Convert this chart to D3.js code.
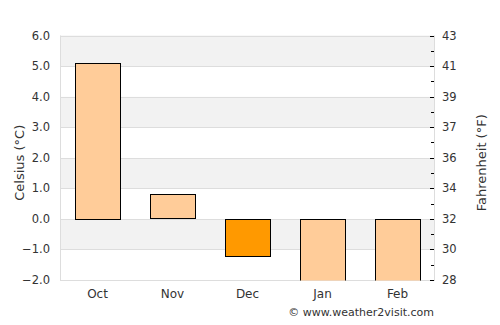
<!DOCTYPE html>
<html>
<head>
<meta charset="utf-8">
<script src="https://cdn.jsdelivr.net/npm/d3@7"></script>
<style>
  body { margin: 0; background: #fff; }
  text { font-family: "DejaVu Sans", sans-serif; fill: #333; }
</style>
</head>
<body>
<div id="chart-area"></div>
<script>
// monthly average temperature (Celsius)
var months = ["Oct", "Nov", "Dec", "Jan", "Feb"];
var celsius = [5.1, 0.8, -1.2, -2.5, -2.4];
var highlight = ["Dec"];

// axis ticks
var celsiusTicks = [-2, -1, 0, 1, 2, 3, 4, 5, 6];
var fahrenheitLabels = [28, 30, 32, 34, 36, 37, 39, 41, 43];

var width = 500, height = 325;
var plotLeft = 60, plotRight = 435, plotTop = 35.5, plotBottom = 280;

var svg = d3.select("#chart-area").append("svg")
    .attr("width", width)
    .attr("height", height);

var x = d3.scaleBand()
    .domain(months)
    .range([plotLeft, plotRight])
    .paddingInner(0.4)
    .paddingOuter(0.2);

var y = d3.scaleLinear()
    .domain([-2, 6])
    .range([plotBottom, plotTop]);

// alternating bands
svg.selectAll("rect.band")
    .data(celsiusTicks.slice(0, -1))
    .enter().append("rect")
    .attr("class", "band")
    .attr("x", plotLeft)
    .attr("width", plotRight - plotLeft)
    .attr("y", function(d) { return y(d + 1); })
    .attr("height", function(d) { return y(d) - y(d + 1); })
    .attr("fill", function(d) { return (d % 2 === 0) ? "#ffffff" : "#f2f2f2"; });

// gridlines
svg.selectAll("line.grid")
    .data(celsiusTicks)
    .enter().append("line")
    .attr("class", "grid")
    .attr("x1", plotLeft)
    .attr("x2", plotRight)
    .attr("y1", function(d) { return Math.round(y(d)) + 0.5; })
    .attr("y2", function(d) { return Math.round(y(d)) + 0.5; })
    .attr("stroke", "#dddddd");

// plot border left/right
svg.append("line")
    .attr("x1", plotLeft + 0.5).attr("x2", plotLeft + 0.5)
    .attr("y1", plotTop).attr("y2", plotBottom + 0.5)
    .attr("stroke", "#dddddd");
svg.append("line")
    .attr("x1", plotRight - 0.5).attr("x2", plotRight - 0.5)
    .attr("y1", plotTop).attr("y2", plotBottom + 0.5)
    .attr("stroke", "#dddddd");

svg.append("clipPath").attr("id", "plot-clip")
  .append("rect")
    .attr("x", plotLeft).attr("y", plotTop)
    .attr("width", plotRight - plotLeft).attr("height", plotBottom - plotTop + 0.5);

// bars
svg.append("g").attr("clip-path", "url(#plot-clip)")
  .selectAll("rect.bar")
    .data(celsius)
    .enter().append("rect")
    .attr("class", "bar")
    .attr("x", function(d, i) { return x(months[i]) + 0.5; })
    .attr("width", x.bandwidth())
    .attr("y", function(d) { return Math.round(y(Math.max(d, 0))) + 0.5; })
    .attr("height", function(d) { return Math.round(Math.abs(y(d) - y(0))); })
    .attr("fill", function(d, i) {
        if (highlight.indexOf(months[i]) >= 0) {
            return "#ff9900";
        }
        return "#ffcc99";
    })
    .attr("stroke", "#000")
    .attr("stroke-width", 1);

// left axis labels
svg.selectAll("text.ylab")
    .data(celsiusTicks)
    .enter().append("text")
    .attr("class", "ylab")
    .attr("x", 50)
    .attr("y", function(d) { return y(d); })
    .attr("dy", "0.35em")
    .attr("text-anchor", "end")
    .style("font-size", "11.5px")
    .text(function(d) { return d3.format(".1f")(d); });

// right axis: ticks every half degree C
var halfTicks = d3.range(-2, 6.01, 0.5);
svg.selectAll("line.ftick")
    .data(halfTicks)
    .enter().append("line")
    .attr("class", "ftick")
    .attr("x1", function(d) { return (d % 1 === 0) ? plotRight - 5 : plotRight - 4; })
    .attr("x2", plotRight - 1)
    .attr("y1", function(d) { return Math.round(y(d)) + 0.5; })
    .attr("y2", function(d) { return Math.round(y(d)) + 0.5; })
    .attr("stroke", "#000");

svg.selectAll("text.flab")
    .data(fahrenheitLabels)
    .enter().append("text")
    .attr("class", "flab")
    .attr("x", 442)
    .attr("y", function(d, i) { return y(celsiusTicks[i]); })
    .attr("dy", "0.35em")
    .style("font-size", "11.5px")
    .text(function(d) { return d; });

// month labels
svg.selectAll("text.xlab")
    .data(months)
    .enter().append("text")
    .attr("class", "xlab")
    .attr("x", function(d) { return x(d) + x.bandwidth() / 2; })
    .attr("y", 298)
    .attr("text-anchor", "middle")
    .style("font-size", "12px")
    .text(function(d) { return d; });

// axis titles
svg.append("text")
    .attr("transform", "translate(24," + ((plotTop + plotBottom) / 2 + 5) + ") rotate(-90)")
    .attr("text-anchor", "middle")
    .style("font-size", "13px")
    .text("Celsius (°C)");

svg.append("text")
    .attr("transform", "translate(486," + ((plotTop + plotBottom) / 2 + 5) + ") rotate(-90)")
    .attr("text-anchor", "middle")
    .style("font-size", "13px")
    .text("Fahrenheit (°F)");

svg.append("text")
    .attr("x", 434)
    .attr("y", 316)
    .attr("text-anchor", "end")
    .style("font-size", "11px")
    .text("© www.weather2visit.com");
</script>
</body>
</html>
